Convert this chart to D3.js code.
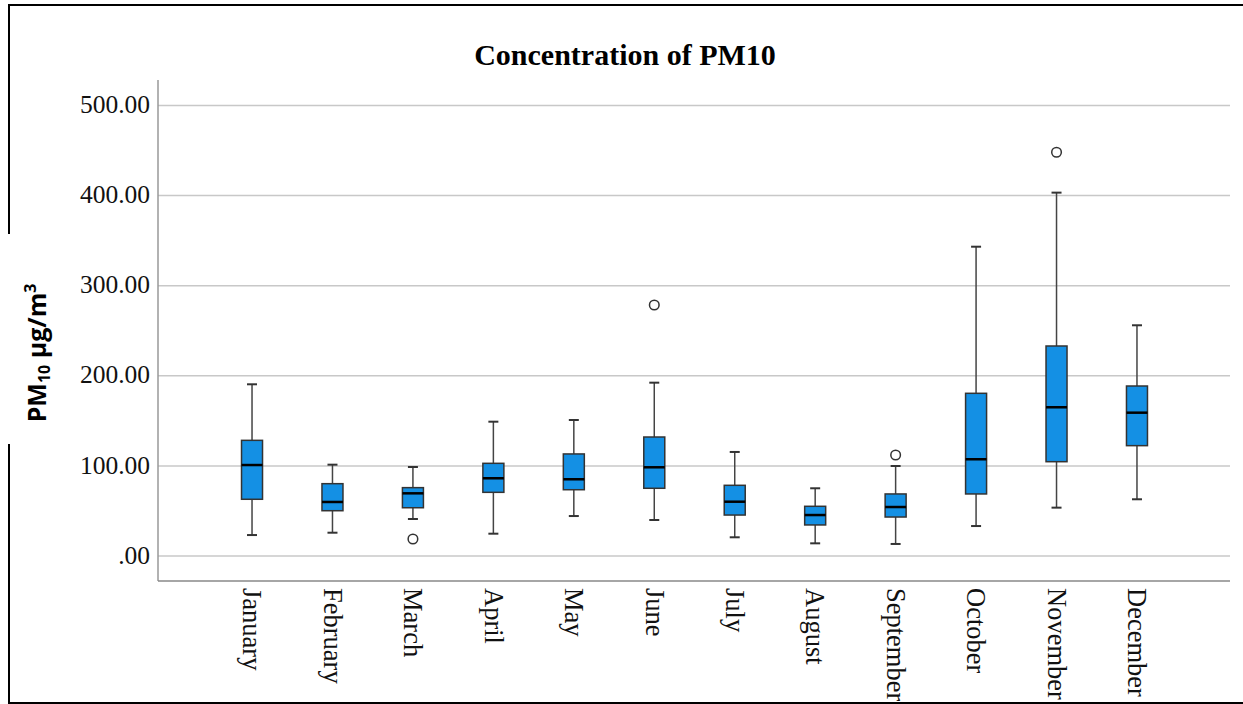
<!DOCTYPE html>
<html>
<head>
<meta charset="utf-8">
<script src="https://cdn.jsdelivr.net/npm/d3@7"></script>
<style>
  html, body { margin: 0; padding: 0; background: #fff; }
  svg { display: block; }
</style>
</head>
<body>
<svg id="chart" width="1243" height="704"></svg>
<script>
const months = ["January","February","March","April","May","June","July","August","September","October","November","December"];
const whiskerLow  = [22.7, 25.3, 40.5, 24.2, 43.8, 39.4, 20.2, 13.5, 12.8, 32.7, 53.1, 62.4];
const q1          = [62.4, 49.7, 53.0, 70.1, 73.0, 74.6, 44.9, 33.9, 42.7, 68.3, 104.1, 121.9];
const median      = [100.4, 59.4, 69.0, 85.7, 84.6, 97.9, 59.7, 44.9, 53.8, 106.8, 164.5, 158.5];
const q3          = [127.8, 79.7, 75.3, 102.3, 112.7, 131.5, 77.9, 54.6, 68.3, 180.0, 232.5, 188.1];
const whiskerHigh = [190.0, 100.8, 98.2, 148.5, 150.4, 191.8, 114.9, 74.6, 99.3, 342.7, 402.7, 255.5];
const outlierMonths = ["March", "June", "September", "November"];
const outlierValues = [18.3, 278.0, 111.5, 447.5];
const yTicks = [0, 100, 200, 300, 400, 500];
const title = "Concentration of PM10";

const svg = d3.select("#chart");

// outer frame (left edge interrupted around the axis title)
svg.append("path")
  .attr("d", "M1243,5 L9,5 L9,234 M9,444 L9,703 L1243,703")
  .attr("fill", "none").attr("stroke", "#000").attr("stroke-width", 2);

const plot = { left: 158, right: 1230, top: 80, bottom: 581 };

const y = d3.scaleLinear().domain([-28.3, 527.7]).range([plot.bottom, plot.top]);
const x = d3.scaleBand().domain(months).range([211.8, 1177.2]);
const cx = m => x(m) + x.bandwidth() / 2;

// gridlines + y tick labels
const yAxis = d3.axisLeft(y)
  .tickValues(yTicks)
  .tickSize(-(plot.right - plot.left))
  .tickPadding(8)
  .tickFormat(d => d === 0 ? ".00" : d3.format(".2f")(d));
const gy = svg.append("g").attr("transform", `translate(${plot.left},0)`).call(yAxis);
gy.select(".domain").remove();
gy.selectAll(".tick line").attr("stroke", "#c8c8c8").attr("stroke-width", 1.5);
gy.selectAll(".tick text")
  .attr("font-family", "'Liberation Serif', 'Times New Roman', serif")
  .attr("font-size", 25.5).attr("fill", "#111")
  .attr("dy", "0.3em");

// x axis
const xAxis = d3.axisBottom(x).tickSize(0).tickPadding(0);
const gx = svg.append("g").attr("transform", `translate(0,${plot.bottom})`).call(xAxis);
gx.select(".domain").remove();
gx.selectAll(".tick text")
  .attr("font-family", "'Liberation Serif', 'Times New Roman', serif")
  .attr("font-size", 26.5).attr("fill", "#111")
  .attr("text-anchor", "start")
  .attr("transform", "translate(0,7) rotate(90)")
  .attr("x", 0).attr("y", 0).attr("dy", "0.33em");

// axis lines
svg.append("line")
  .attr("x1", plot.left).attr("x2", plot.left).attr("y1", plot.top).attr("y2", plot.bottom)
  .attr("stroke", "#999").attr("stroke-width", 1.5);
svg.append("line")
  .attr("x1", plot.left).attr("x2", plot.right).attr("y1", plot.bottom).attr("y2", plot.bottom)
  .attr("stroke", "#888").attr("stroke-width", 1.5);

// boxes
const boxW = 21, capW = 10;
const g = svg.append("g");
months.forEach((m, i) => {
  const c = cx(m);
  g.append("line").attr("x1", c).attr("x2", c).attr("y1", y(whiskerHigh[i])).attr("y2", y(q3[i]))
    .attr("stroke", "#444").attr("stroke-width", 1.5);
  g.append("line").attr("x1", c).attr("x2", c).attr("y1", y(q1[i])).attr("y2", y(whiskerLow[i]))
    .attr("stroke", "#444").attr("stroke-width", 1.5);
  [whiskerHigh[i], whiskerLow[i]].forEach(v => {
    g.append("line").attr("x1", c - capW / 2).attr("x2", c + capW / 2).attr("y1", y(v)).attr("y2", y(v))
      .attr("stroke", "#333").attr("stroke-width", 2);
  });
  g.append("rect")
    .attr("x", c - boxW / 2).attr("width", boxW)
    .attr("y", y(q3[i])).attr("height", y(q1[i]) - y(q3[i]))
    .attr("fill", "#1490e4").attr("stroke", "#333").attr("stroke-width", 1.5);
  g.append("line").attr("x1", c - boxW / 2).attr("x2", c + boxW / 2)
    .attr("y1", y(median[i])).attr("y2", y(median[i]))
    .attr("stroke", "#000").attr("stroke-width", 2.5);
});

// outliers
outlierMonths.forEach((m, i) => {
  g.append("circle").attr("cx", cx(m)).attr("cy", y(outlierValues[i])).attr("r", 4.8)
    .attr("fill", "#fff").attr("stroke", "#333").attr("stroke-width", 1.5);
});

// title
svg.append("text")
  .attr("x", 625).attr("y", 65)
  .attr("text-anchor", "middle")
  .attr("font-family", "'Liberation Serif', 'Times New Roman', serif")
  .attr("font-weight", "bold").attr("font-size", 30).attr("fill", "#000")
  .text(title);

// y axis title
const yl = svg.append("text")
  .attr("transform", "translate(46,353) rotate(-90)")
  .attr("text-anchor", "middle")
  .attr("font-family", "'Open Sans', 'Liberation Sans', sans-serif")
  .attr("font-weight", "bold").attr("font-size", 25).attr("fill", "#000");
yl.append("tspan").text("PM");
yl.append("tspan").attr("font-size", 16).attr("dy", 4).text("10");
yl.append("tspan").attr("dy", -4).text(" µg/m");
yl.append("tspan").attr("font-size", 16).attr("dy", -10).text("3");
</script>
</body>
</html>
